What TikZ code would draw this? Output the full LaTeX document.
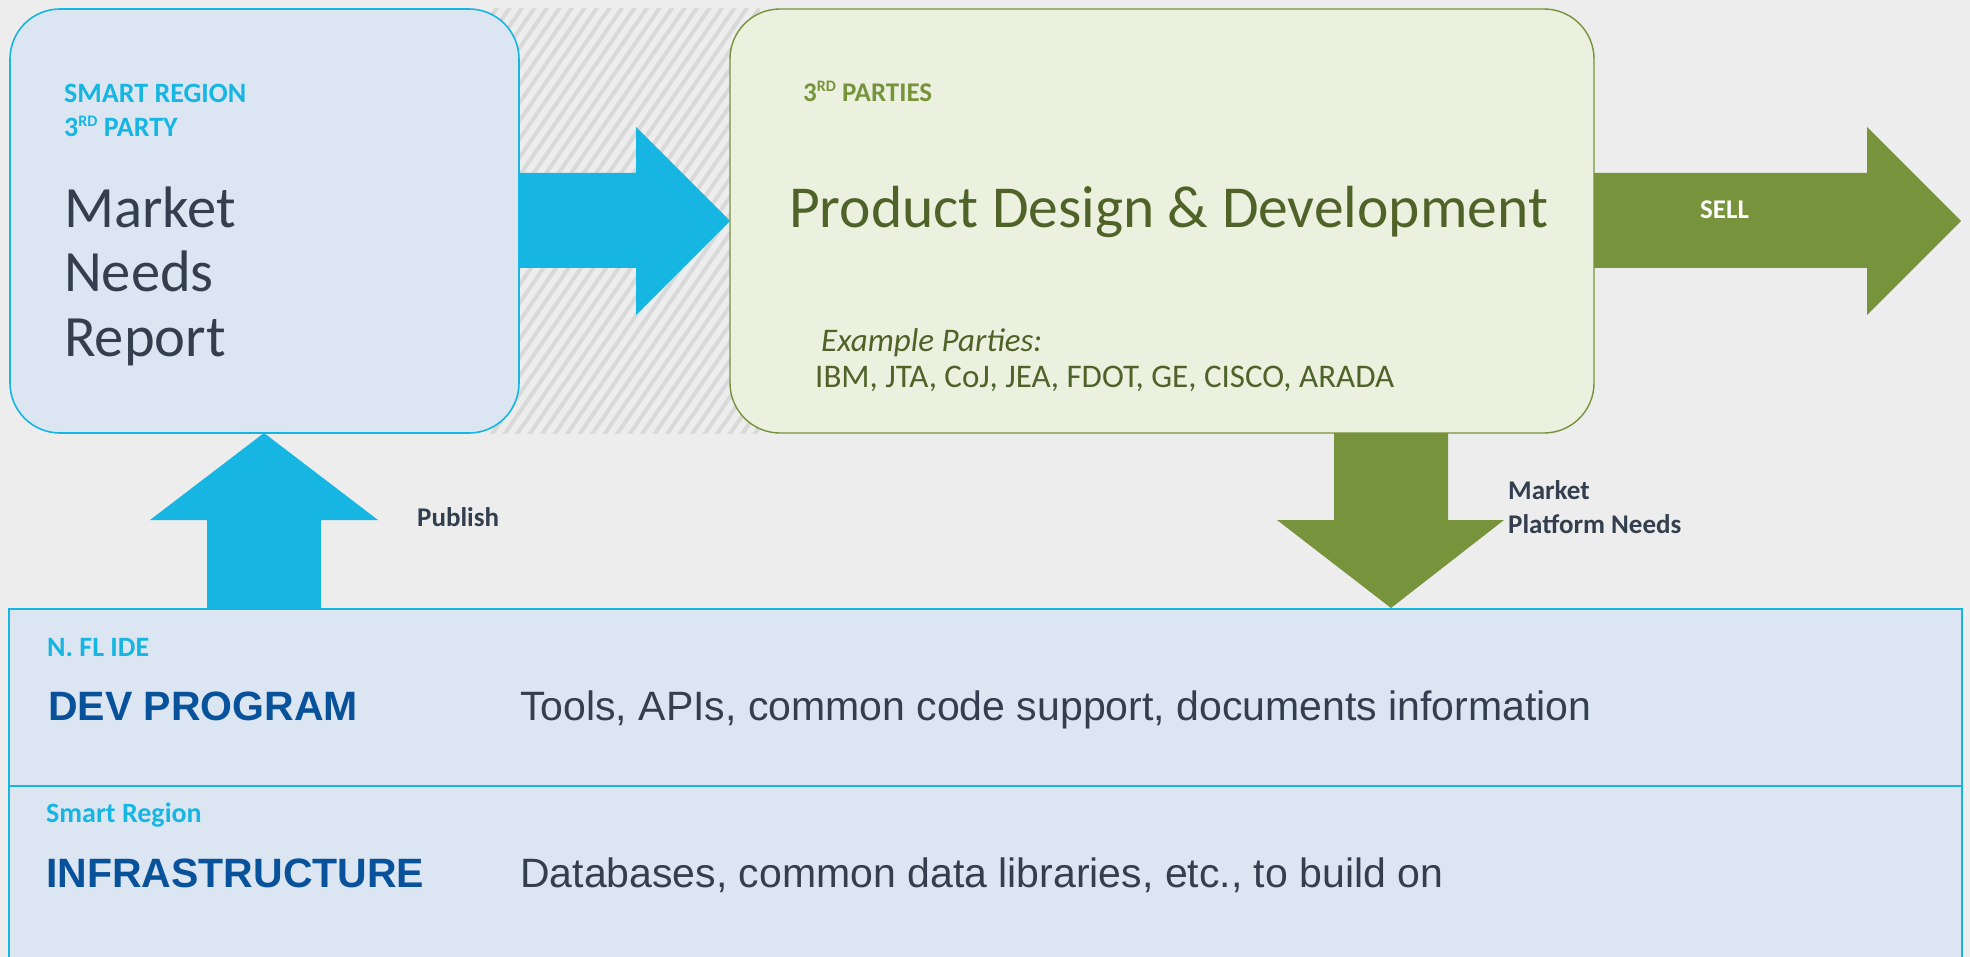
\documentclass[tikz,border=0pt]{standalone}
\usepackage{fontspec}
\setmainfont{Carlito}
\newfontfamily\arialfont{Liberation Sans}
\definecolor{bgc}{HTML}{EDEDED}
\definecolor{lblue}{HTML}{DCE6F2}
\definecolor{cyanc}{HTML}{16B5E2}
\definecolor{lgreen}{HTML}{EBF1DE}
\definecolor{greenc}{HTML}{77933C}
\definecolor{dgreen}{HTML}{4F6228}
\definecolor{dtext}{HTML}{333F4F}
\definecolor{navy}{HTML}{08519B}
\definecolor{hatchc}{HTML}{D9D9D9}
\begin{document}
\begin{tikzpicture}[x=1pt,y=-1pt,
  txt/.style={inner sep=0pt, anchor=base west},
  small/.style={txt, font=\fontsize{27pt}{34pt}\selectfont\bfseries},
  smallc/.style={txt, font=\fontsize{28pt}{34pt}\selectfont\bfseries, text=cyanc},
  big/.style={txt, font=\fontsize{58.5pt}{64pt}\selectfont},
  arl/.style={txt, font=\fontsize{41pt}{48pt}\selectfont\arialfont},
  arlb/.style={txt, font=\fontsize{41pt}{48pt}\selectfont\arialfont\bfseries, text=navy},
  mid/.style={txt, font=\fontsize{33pt}{36pt}\selectfont, text=dgreen},
  bluebox/.style={draw=cyanc, fill=lblue, line width=1.6pt},
  greenbox/.style={draw=greenc, fill=lgreen, line width=1.4pt},
  bluearrow/.style={fill=cyanc},
  greenarrow/.style={fill=greenc},
  hatchline/.style={draw=hatchc, line width=4pt}]
\useasboundingbox (0,0) rectangle (1970,957);
\fill[bgc] (0,0) rectangle (1970,957);
% hatched band
\fill[bgc] (488,9) rectangle (760,433);
\begin{scope}
\clip (488,9) rectangle (760,433);
\foreach \i in {-30,...,25} {
  \draw[hatchline] ({488+\i*12.5},440) -- ++(302,-440);
}
\end{scope}
% boxes
\draw[bluebox, rounded corners=50pt] (10,9) rectangle (519,433);
\node[inner sep=0pt] (mnr) at (264.5,221) {};
\draw[greenbox, rounded corners=50pt] (730,9) rectangle (1594,433);
\node[inner sep=0pt] (pdd) at (1162,221) {};
\draw[bluebox] (9,609) rectangle (1962,975);
\draw[cyanc, line width=1.6pt] (9,786) -- (1962,786);
% arrows
\fill[bluearrow] (519,173) -- (636,173) -- (636,127) -- (730,221) -- (636,315) -- (636,268) -- (519,268) -- cycle;
\fill[greenarrow] (1594,173) -- (1867,173) -- (1867,127) -- (1961,221) -- (1867,315) -- (1867,268) -- (1594,268) -- cycle;
\fill[greenarrow] (1334,433) -- (1448,433) -- (1448,520) -- (1504,520) -- (1391,608) -- (1277,520) -- (1334,520) -- cycle;
\fill[bluearrow] (207,609) -- (321,609) -- (321,520) -- (378,520) -- (264,433) -- (150,520) -- (207,520) -- cycle;
% left box texts
\node[smallc] (sr1) at (64,103) {SMART REGION};
\node[smallc] (sr2) at (64,137) {3\raisebox{10pt}{\fontsize{16pt}{16pt}\selectfont RD} PARTY};
\node[big, text=dtext] (m1) at (64,228) {Market};
\node[big, text=dtext] (m2) at (64,292) {Needs};
\node[big, text=dtext] (m3) at (64,356) {Report};
% green box texts
\node[small, text=greenc] (tp) at (803,102) {3\raisebox{10pt}{\fontsize{16pt}{16pt}\selectfont RD} PARTIES};
\node[big, font=\fontsize{59.5pt}{64pt}\selectfont, text=dgreen] (pd) at (789,228) {Product Design \& Development};
\node[mid, font=\fontsize{33pt}{36pt}\selectfont\itshape] (ex) at (821,352) {Example Parties:};
\node[mid] (ibm) at (815,388) {IBM, JTA, CoJ, JEA, FDOT, GE, CISCO, ARADA};
% arrow labels
\node[small, text=white] (sell) at (1700,219) {SELL};
\node[small, text=dtext] (pub) at (417,526) {Publish};
\node[small, text=dtext] (mp1) at (1508,499) {Market};
\node[small, text=dtext] (mp2) at (1508,533) {Platform Needs};
% bottom box texts
\node[smallc] (nfl) at (47,656) {N. FL IDE};
\node[arlb] (dev) at (48,720) {DEV PROGRAM};
\node[arl, text=dtext] (tools) at (520,720) {Tools, APIs, common code support, documents information};
\node[smallc] (srg) at (46,822) {Smart Region};
\node[arlb] (inf) at (46,887) {INFRASTRUCTURE};
\node[arl, text=dtext] (db) at (520,887) {Databases, common data libraries, etc., to build on};
\end{tikzpicture}
\end{document}
